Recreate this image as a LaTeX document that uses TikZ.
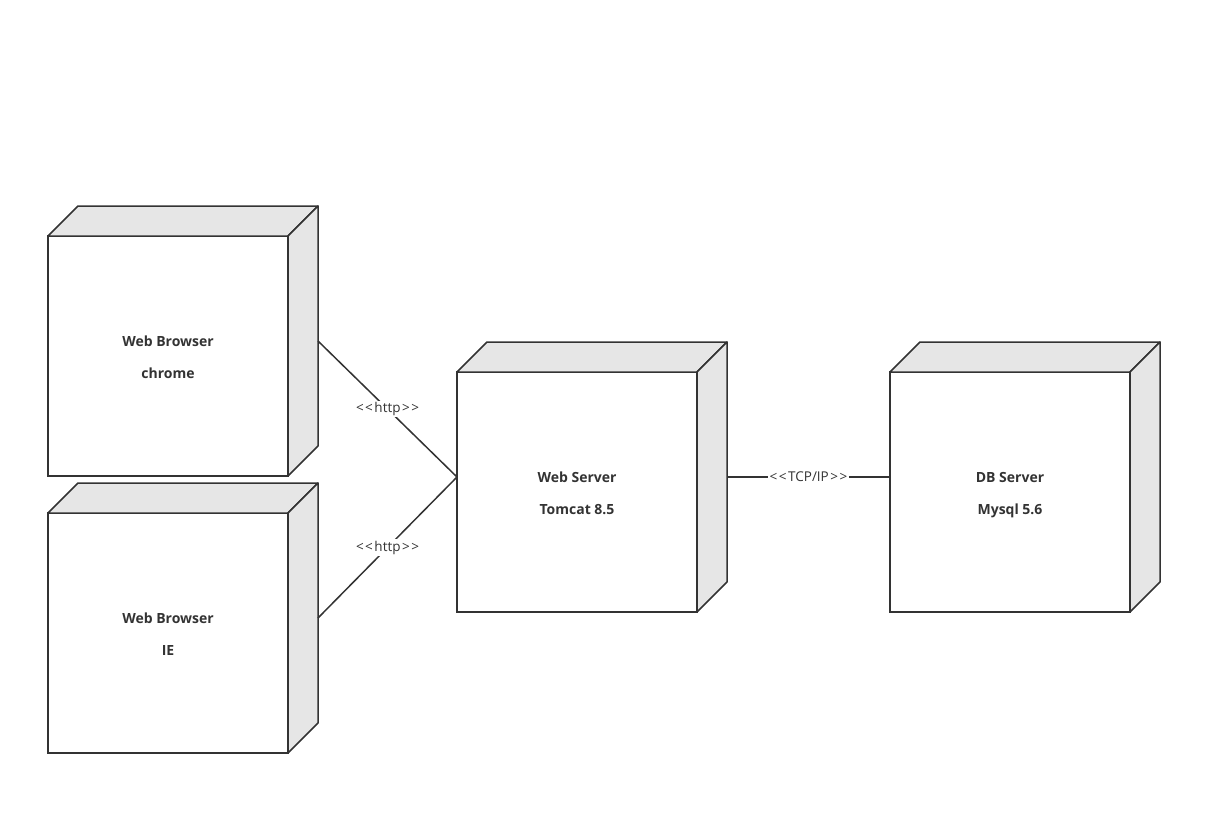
\documentclass[tikz,border=0pt]{standalone}
\usepackage{fontspec}
\setmainfont{Open Sans}
\usepackage{xcolor}
\usetikzlibrary{positioning}

\definecolor{edgegray}{HTML}{333333}
\definecolor{facegray}{HTML}{E6E6E6}

\newcommand{\lt}{<\kern1.5pt}
\newcommand{\gt}{\kern1.5pt>}

\tikzset{
  device/.style={draw=edgegray, line width=1.5pt, fill=white, minimum width=240pt,
    minimum height=240pt, inner sep=0pt, outer sep=0pt, align=center,
    text=edgegray, font=\fontsize{14}{32}\selectfont\bfseries},
  face/.style={draw=edgegray, line width=1.5pt, fill=facegray, line join=round},
  link/.style={draw=edgegray, line width=1.5pt},
  proto/.style={fill=white, inner sep=1.5pt, text=edgegray, font=\fontsize{13.5}{15}\selectfont}
}

\begin{document}
\begin{tikzpicture}[x=1pt, y=-1pt]
				\useasboundingbox (0,0) rectangle (1222,814);
				% Nodes (front faces):
				\node[device] (chrome) at (168,356) {\strut Web Browser\\\strut chrome};
				\node[device] (ie) at (168,633) {\strut Web Browser\\\strut IE};
				\node[device] (server) at (577,492) {\strut Web Server\\\strut Tomcat 8.5};
				\node[device] (db) at (1010,492) {\strut DB Server\\\strut Mysql 5.6};
				% Top and side faces:
				\foreach \n in {chrome, ie, server, db}{
					\draw[face] (\n.north west) -- ++(30,-30) -- ++(240,0) -- (\n.north east) -- cycle;
					\draw[face] (\n.north east) -- ++(30,-30) -- ++(0,240) -- (\n.south east) -- cycle;
				}
				% Connectors:
				\draw[link] ([xshift=30pt, yshift=15pt]chrome.east) -- ([yshift=15pt]server.west)
					node[proto, midway] {\lt\lt http\gt\gt};
				\draw[link] ([xshift=30pt, yshift=15pt]ie.east) -- ([yshift=15pt]server.west)
					node[proto, midway] {\lt\lt http\gt\gt};
				\draw[link] ([xshift=30pt, yshift=15pt]server.east) -- ([yshift=15pt]db.west)
					node[proto, midway] {\lt\lt TCP/IP\gt\gt};
\end{tikzpicture}
\end{document}
